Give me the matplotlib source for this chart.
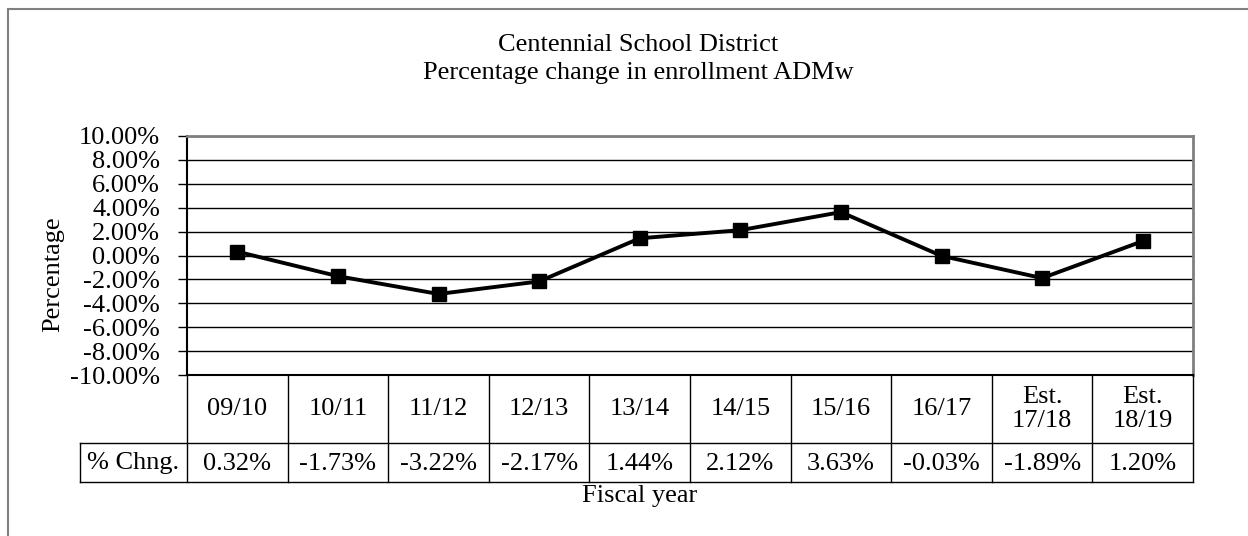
import matplotlib
matplotlib.use("Agg")
import matplotlib.pyplot as plt
from matplotlib.patches import Rectangle

plt.rcParams['font.family'] = ['Liberation Serif', 'DejaVu Serif']
plt.rcParams['axes.unicode_minus'] = False

years = ["09/10", "10/11", "11/12", "12/13", "13/14", "14/15", "15/16", "16/17",
         "Est.\n17/18", "Est.\n18/19"]
pct_change = [0.32, -1.73, -3.22, -2.17, 1.44, 2.12, 3.63, -0.03, -1.89, 1.20]
yticks = [-10, -8, -6, -4, -2, 0, 2, 4, 6, 8, 10]

W, H = 1248, 536
FS = 19
fig = plt.figure(figsize=(W / 100, H / 100), dpi=100)


def box(x0, y0, x1, y1):
    # pixel box (top-left origin) -> figure fractions
    return [x0 / W, 1 - y1 / H, (x1 - x0) / W, (y1 - y0) / H]


def fy(py):
    return 1 - py / H


# outer chart frame
fig.patches.append(Rectangle((8 / W, -0.1), 1.2, fy(9) + 0.1, transform=fig.transFigure,
                             fill=False, edgecolor="#808080", lw=1.5))

left, right, top, bottom = 187, 1193, 136, 375
ax = fig.add_axes(box(left, top, right, bottom))
x = list(range(len(years)))
ax.plot(x, pct_change, color="black", lw=2.8, marker="s", markersize=9.5,
        markerfacecolor="black", zorder=3)
ax.set_xlim(-0.5, len(years) - 0.5)
ax.set_ylim(-10, 10)
ax.set_yticks(yticks)
ax.set_yticklabels([f"{v:.2f}%" for v in yticks], fontsize=FS)
ax.set_xticks([])
ax.grid(axis="y", color="black", lw=1)
ax.tick_params(axis="y", direction="out", length=6.5, width=1, pad=13)
for s in ["top", "right"]:
    ax.spines[s].set_color("#808080")
    ax.spines[s].set_linewidth(2)
ax.spines["left"].set_linewidth(1.5)
ax.spines["bottom"].set_linewidth(1.5)
fig.text(53 / W, fy(274), "Percentage", rotation=90, ha="center", va="center", fontsize=FS)

# data table below the plot
row1, row2 = 68, 39
tab = fig.add_axes(box(left, bottom, right, bottom + row1 + row2), sharex=ax)
tab.set_ylim(row1 + row2, 0)
tab.axis("off")
colw = (right - left) / len(years)
hdr_w = (left - 80) / colw
lk = dict(color="black", lw=1, clip_on=False)
for i in range(len(years) + 1):
    tab.plot([i - 0.5, i - 0.5], [0, row1 + row2], **lk)
tab.plot([-0.5 - hdr_w, -0.5 - hdr_w], [row1, row1 + row2], **lk)
tab.plot([-0.5 - hdr_w, len(years) - 0.5], [row1, row1], **lk)
tab.plot([-0.5 - hdr_w, len(years) - 0.5], [row1 + row2, row1 + row2], **lk)
for i, (yr, v) in enumerate(zip(years, pct_change)):
    tab.text(i, row1 / 2, yr, ha="center", va="center", fontsize=FS, linespacing=1.15)
    tab.text(i, row1 + row2 / 2 + 1, f"{v:.2f}%", ha="center", va="center", fontsize=FS)
tab.text(-0.5 - hdr_w / 2, row1 + row2 / 2 + 1, "% Chng.", ha="center", va="center", fontsize=FS)

fig.text(638 / W, fy(51), "Centennial School District", ha="center", va="baseline", fontsize=FS)
fig.text(638 / W, fy(79), "Percentage change in enrollment ADMw", ha="center", va="baseline",
         fontsize=FS)
fig.text(640 / W, fy(502), "Fiscal year", ha="center", va="baseline", fontsize=FS)

fig.savefig("out.png", dpi=100)
